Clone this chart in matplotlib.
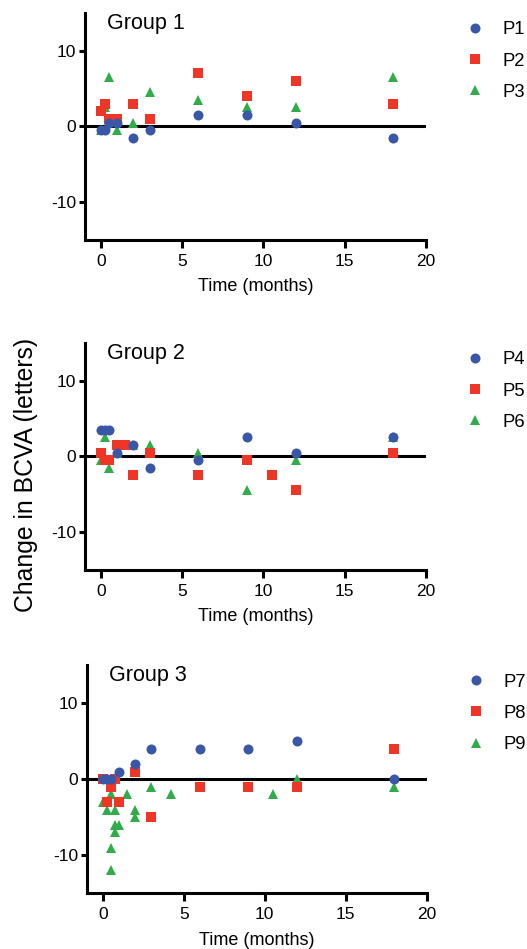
import matplotlib
matplotlib.use("Agg")
import matplotlib.pyplot as plt

plt.rcParams['font.family'] = ['Liberation Sans', 'DejaVu Sans']
plt.rcParams['axes.unicode_minus'] = False

# Group 1
t_p1 = [0, 0.25, 0.5, 1, 2, 3, 6, 9, 12, 18]
y_p1 = [-0.5, -0.5, 0.5, 0.5, -1.5, -0.5, 1.5, 1.5, 0.5, -1.5]
t_p2 = [0, 0.25, 0.5, 1, 2, 3, 6, 9, 12, 18]
y_p2 = [2, 3, 1, 1, 3, 1, 7, 4, 6, 3]
t_p3 = [0, 0.25, 0.5, 1, 2, 3, 6, 9, 12, 18]
y_p3 = [-0.5, 2.5, 6.5, -0.5, 0.5, 4.5, 3.5, 2.5, 2.5, 6.5]

# Group 2
t_p4 = [0, 0.25, 0.5, 1, 2, 3, 6, 9, 12, 18]
y_p4 = [3.5, 3.5, 3.5, 0.5, 1.5, -1.5, -0.5, 2.5, 0.5, 2.5]
t_p5 = [0, 0.25, 0.5, 1, 1.5, 2, 3, 6, 9, 10.5, 12, 18]
y_p5 = [0.5, -0.5, -0.5, 1.5, 1.5, -2.5, 0.5, -2.5, -0.5, -2.5, -4.5, 0.5]
t_p6 = [0, 0.25, 0.5, 1, 2, 3, 6, 9, 12, 18]
y_p6 = [-0.5, 2.5, -1.5, 0.5, 1.5, 1.5, 0.5, -4.5, -0.5, 2.5]

# Group 3
t_p7 = [0, 0.25, 0.5, 1, 2, 3, 6, 9, 12, 18]
y_p7 = [0, 0, 0, 1, 2, 4, 4, 4, 5, 0]
t_p8 = [0, 0.25, 0.5, 0.75, 1, 2, 3, 6, 9, 12, 18]
y_p8 = [0, -3, -1, 0, -3, 1, -5, -1, -1, -1, 4]
t_p9 = [0, 0.25, 0.5, 0.5, 0.5, 0.75, 0.75, 0.75, 1, 1.5, 2, 2, 3, 4.2, 10.5, 12, 18]
y_p9 = [-3, -4, -2, -9, -12, -4, -6, -7, -6, -2, -4, -5, -1, -2, -2, 0, -1]

groups = ["Group 1", "Group 2", "Group 3"]
labels = [["P1", "P2", "P3"], ["P4", "P5", "P6"], ["P7", "P8", "P9"]]
series = [
    [(t_p1, y_p1), (t_p2, y_p2), (t_p3, y_p3)],
    [(t_p4, y_p4), (t_p5, y_p5), (t_p6, y_p6)],
    [(t_p7, y_p7), (t_p8, y_p8), (t_p9, y_p9)],
]

blue = '#3a57a7'
red = '#ee3526'
green = '#30ad4a'
styles = [('o', blue, 7.2), ('s', red, 7.3), ('^', green, 7.2)]

W, H = 527, 949
fig = plt.figure(figsize=(W / 100, H / 100), dpi=100)

# axes boxes in pixels: left, top, right, bottom
boxes = [(84.5, 12.7, 426, 240), (84.5, 342.7, 426, 570), (86.5, 665, 426.7, 893.3)]

for g in range(3):
    l, t, r, b = boxes[g]
    ax = fig.add_axes([l / W, 1 - b / H, (r - l) / W, (b - t) / H])
    ax.axhline(0, color='black', lw=2.2, zorder=1)
    # green first, then red, then blue on top
    handles = [None, None, None]
    for i in [2, 1, 0]:
        tt, yy = series[g][i]
        m, c, ms = styles[i]
        h, = ax.plot(tt, yy, linestyle='none', marker=m, color=c,
                     markersize=ms, markeredgewidth=0, zorder=3 + (2 - i),
                     label=labels[g][i], clip_on=False)
        handles[i] = h
    ax.set_xlim(-1, 20)
    ax.set_ylim(-15, 15)
    ax.set_xticks([0, 5, 10, 15, 20])
    ax.set_yticks([-10, 0, 10])
    for s in ['top', 'right']:
        ax.spines[s].set_visible(False)
    for s in ['left', 'bottom']:
        ax.spines[s].set_linewidth(2.2)
    ax.tick_params(axis='both', width=2.2, labelsize=12.5)
    ax.tick_params(axis='y', length=4.3, pad=1.5)
    ax.tick_params(axis='x', length=5.6, pad=4.6)
    ax.set_xlabel("Time (months)", fontsize=13, labelpad=6.6)
    ax.text(0.066, 1.0, groups[g], transform=ax.transAxes, fontsize=15.5,
            ha='left', va='top')
    ax.legend(handles=handles, loc='upper left', bbox_to_anchor=(1.117, 0.962),
              frameon=False, borderpad=0, borderaxespad=0, handlelength=1.0,
              handletextpad=1.0, labelspacing=0.77, fontsize=13.3)

fig.text(0.05, 0.5, "Change in BCVA (letters)", rotation=90, fontsize=17.8,
         ha='center', va='center')

plt.savefig("out.png", dpi=100)
